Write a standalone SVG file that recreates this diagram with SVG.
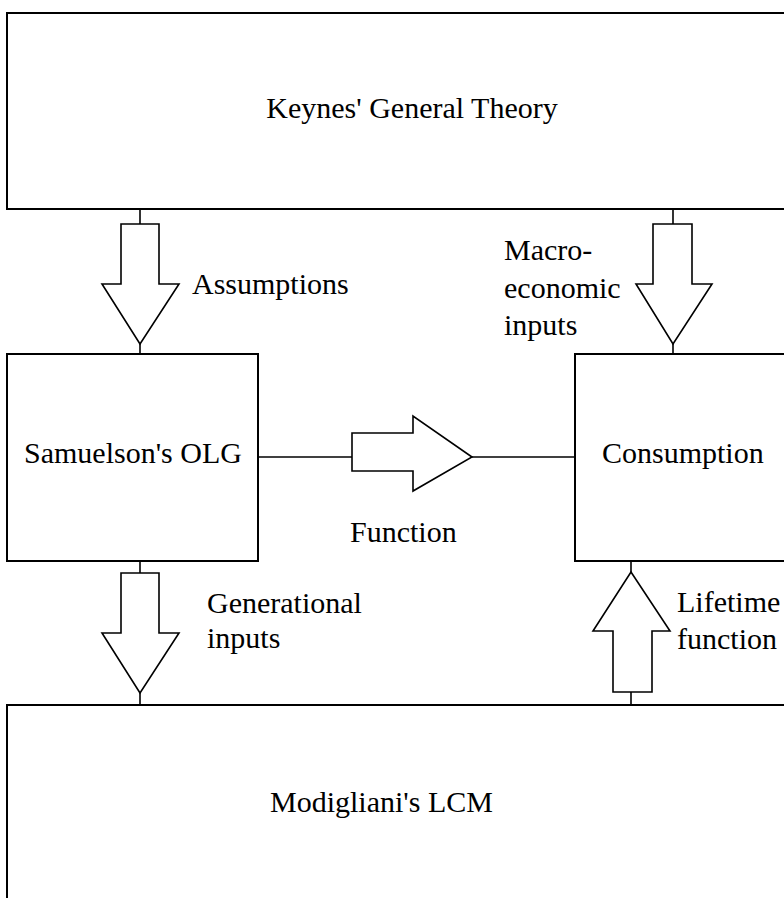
<svg xmlns="http://www.w3.org/2000/svg" width="784" height="898" viewBox="0 0 784 898">
<style>
.box{fill:#fff;stroke:#000;stroke-width:2}
.arr{fill:#fff;stroke:#000;stroke-width:1.6;stroke-linejoin:miter}
.ln{stroke:#000;stroke-width:1.6;fill:none}
text{font-family:"Liberation Serif","Times New Roman",serif;font-size:30px;fill:#000}
</style>
<rect width="784" height="898" fill="#fff"/>
<g id="keynes">
<rect class="box" x="7" y="13" width="800" height="196"/>
<text x="412" y="118" text-anchor="middle">Keynes' General Theory</text>
</g>
<g id="samuelson">
<rect class="box" x="7" y="354" width="251" height="207"/>
<text x="24" y="463">Samuelson's OLG</text>
</g>
<g id="consumption">
<rect class="box" x="575" y="354" width="250" height="207"/>
<text x="602" y="463">Consumption</text>
</g>
<g id="modigliani">
<rect class="box" x="7" y="705" width="800" height="250"/>
<text x="270" y="812">Modigliani's LCM</text>
</g>
<g id="connectors">
<line class="ln" x1="140" y1="209" x2="140" y2="224"/>
<polygon class="arr" points="121,224 159,224 159,284 179,284 140,344 102,284 121,284"/>
<line class="ln" x1="140" y1="344" x2="140" y2="354"/>
<text x="192" y="294">Assumptions</text>

<line class="ln" x1="673" y1="209" x2="673" y2="224"/>
<polygon class="arr" points="653,224 692,224 692,284 712,284 673,344 636,284 653,284"/>
<line class="ln" x1="673" y1="344" x2="673" y2="354"/>
<text x="504" y="260">Macro-</text>
<text x="504" y="298">economic</text>
<text x="504" y="335">inputs</text>

<line class="ln" x1="258" y1="457" x2="352" y2="457"/>
<polygon class="arr" points="352,433 413,433 413,416 472,457 413,491 413,471 352,471"/>
<line class="ln" x1="472" y1="457" x2="575" y2="457"/>
<text x="350" y="542">Function</text>

<line class="ln" x1="140" y1="561" x2="140" y2="573"/>
<polygon class="arr" points="121,573 159,573 159,633 179,633 140,693 102,633 121,633"/>
<line class="ln" x1="140" y1="693" x2="140" y2="705"/>
<text x="207" y="613">Generational</text>
<text x="207" y="648">inputs</text>

<line class="ln" x1="631" y1="561" x2="631" y2="572"/>
<polygon class="arr" points="631,572 670,631 652,631 652,692 613,692 613,631 593,631"/>
<line class="ln" x1="631" y1="692" x2="631" y2="705"/>
<text x="677" y="612">Lifetime</text>
<text x="677" y="649">function</text>
</g>
</svg>
